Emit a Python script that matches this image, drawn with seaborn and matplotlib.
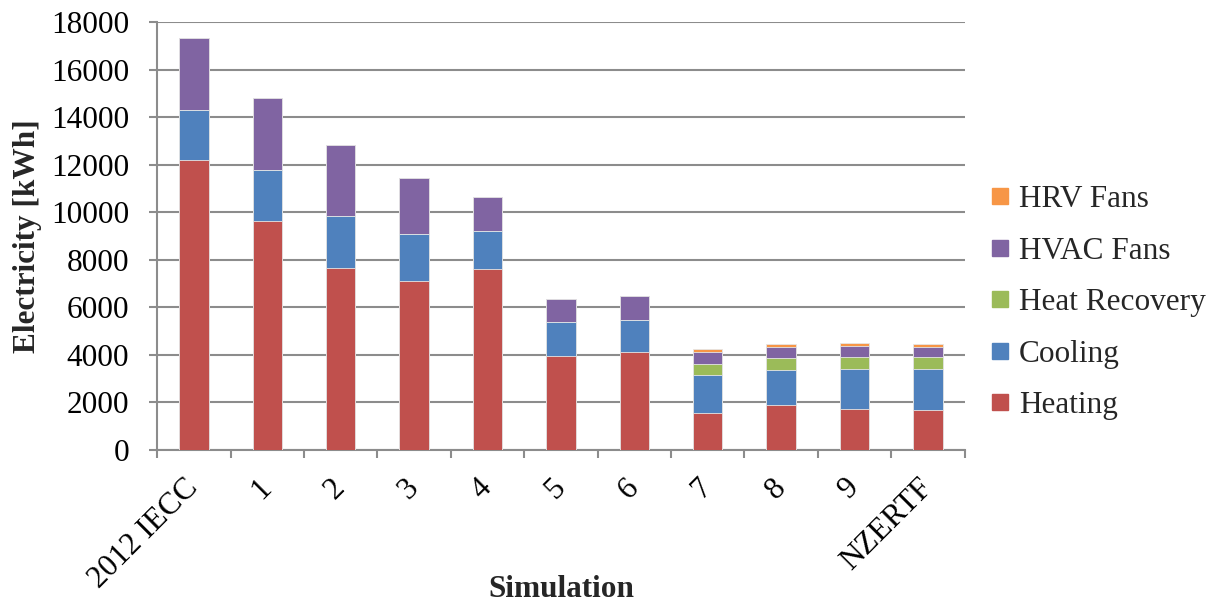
import numpy as np
import pandas as pd
import matplotlib
matplotlib.use("Agg")
import matplotlib.pyplot as plt
from matplotlib.lines import Line2D
import seaborn as sns

# ---- Data ----
simulations = ["2012 IECC", "1", "2", "3", "4", "5", "6", "7", "8", "9", "NZERTF"]
heating = [12200, 9620, 7630, 7100, 7620, 3960, 4130, 1540, 1870, 1700, 1660]
cooling = [2100, 2150, 2190, 1970, 1580, 1420, 1350, 1600, 1480, 1720, 1730]
heat_recovery = [0, 0, 0, 0, 0, 0, 0, 490, 500, 470, 500]
hvac_fans = [3020, 3050, 3010, 2350, 1430, 960, 980, 480, 470, 480, 430]
hrv_fans = [0, 0, 0, 0, 0, 0, 0, 120, 120, 110, 130]

series_names = ["Heating", "Cooling", "Heat Recovery", "HVAC Fans", "HRV Fans"]
series_colors = ["#C0504D", "#4F81BD", "#9BBB59", "#8064A2", "#F79646"]

sns.set_theme(style="white")
plt.rcParams["font.family"] = ["Liberation Serif", "DejaVu Serif"]
FS = 22.5

df = pd.DataFrame({
    "Simulation": simulations,
    "Heating": heating,
    "Cooling": cooling,
    "Heat Recovery": heat_recovery,
    "HVAC Fans": hvac_fans,
    "HRV Fans": hrv_fans,
})
cum = df[series_names].cumsum(axis=1)

fig = plt.figure(figsize=(12.18, 6.03), dpi=100)
ax = fig.add_axes([0.129, 0.254, 0.663, 0.7095])

grid_col = "#8C8C8C"

# Stack by overlaying cumulative totals, top layer first
for name, color in reversed(list(zip(series_names, series_colors))):
    plot_df = pd.DataFrame({"Simulation": simulations, "value": cum[name]})
    sns.barplot(data=plot_df, x="Simulation", y="value", order=simulations,
                color=color, saturation=1, width=0.4, errorbar=None,
                edgecolor="#E6E6E6", linewidth=0.6, ax=ax, zorder=3)

ax.set_ylim(0, 18000)
ax.set_yticks(np.arange(0, 18001, 2000))
ax.set_xlim(-0.5, len(simulations) - 0.5)
ax.yaxis.grid(True, color=grid_col, linewidth=1.5, zorder=0)
ax.xaxis.grid(False)

for side in ["top", "right"]:
    ax.spines[side].set_visible(False)
for side in ["left", "bottom"]:
    ax.spines[side].set_color(grid_col)
    ax.spines[side].set_linewidth(1.5)

ax.tick_params(axis="y", which="major", left=True, length=6, width=1.5,
               color=grid_col, labelsize=FS, pad=14, labelcolor="black")
ax.tick_params(axis="x", which="major", bottom=False, labelsize=FS,
               pad=18, labelcolor="black")
ax.set_xticks(np.arange(-0.5, len(simulations)), minor=True)
ax.tick_params(axis="x", which="minor", bottom=True, length=6, width=1.5,
               color=grid_col)
plt.setp(ax.get_xticklabels(), rotation=45, ha="right", va="center",
         rotation_mode="anchor")

ax.set_ylabel("Electricity [kWh]", fontsize=FS, fontweight="bold")
ax.yaxis.set_label_coords(-0.142, 0.5)
ax.set_xlabel("Simulation", fontsize=FS, fontweight="bold")
ax.xaxis.set_label_coords(0.5, -0.292)

# Legend: top entry is the top layer
handles = [Line2D([0], [0], marker="s", linestyle="", markersize=11.5,
                  markerfacecolor=c, markeredgecolor=c)
           for c in reversed(series_colors)]
fig.legend(handles, list(reversed(series_names)), loc="center left",
           bbox_to_anchor=(0.8135, 0.498), frameon=False, fontsize=FS,
           handletextpad=0.3, labelspacing=0.72, handlelength=0.6,
           borderpad=0, borderaxespad=0)

plt.savefig("out.png", dpi=100)
plt.close()
